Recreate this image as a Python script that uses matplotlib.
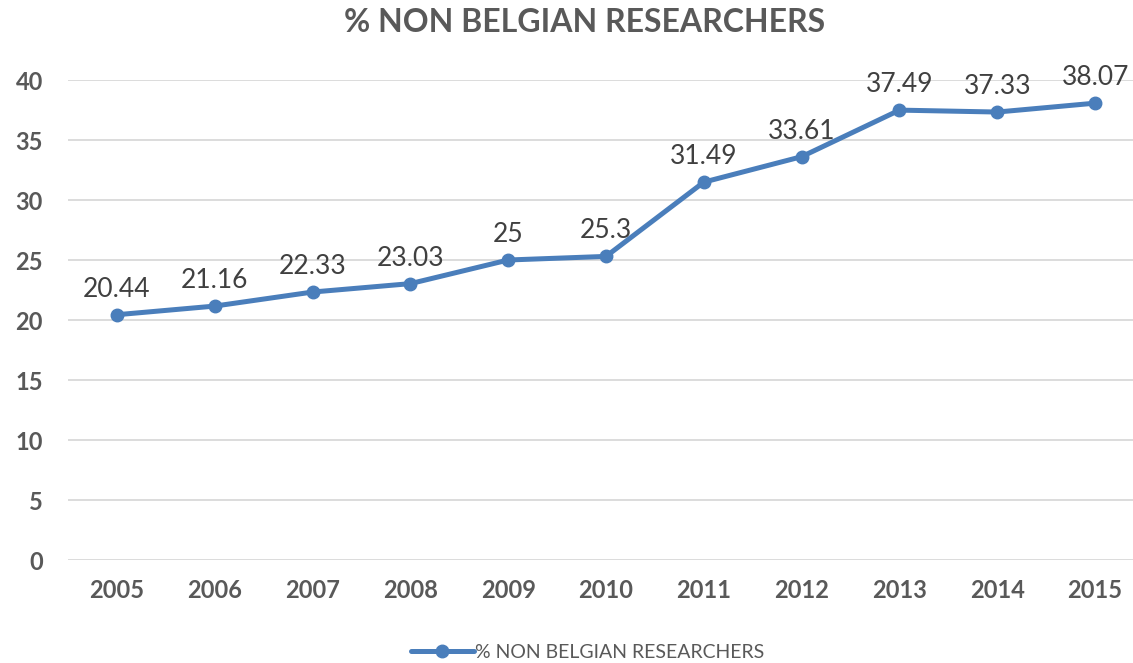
import matplotlib.pyplot as plt

years = ["2005", "2006", "2007", "2008", "2009", "2010", "2011", "2012", "2013", "2014", "2015"]
values = [20.44, 21.16, 22.33, 23.03, 25, 25.3, 31.49, 33.61, 37.49, 37.33, 38.07]
labels = ["20.44", "21.16", "22.33", "23.03", "25", "25.3", "31.49", "33.61", "37.49", "37.33", "38.07"]
series_name = "% NON BELGIAN RESEARCHERS"

plt.rcParams['font.family'] = ['Lato', 'DejaVu Sans']
grey = "#595959"
blue = "#4a7ebb"

fig = plt.figure(figsize=(11.33, 6.63), dpi=100)
W, H = 1133, 663
ax = fig.add_axes([68 / W, 1 - 560 / H, 1076 / W, 480 / H])

x = list(range(len(years)))
line, = ax.plot(x, values, color=blue, lw=3.6, marker="o", markersize=9,
                solid_capstyle="round", label=series_name, zorder=3)

# etiquetas de datos encima de cada punto
for xi, v, lab in zip(x, values, labels):
    ax.annotate(lab, (xi, v), xytext=(0, 13), textcoords="offset points",
                ha="center", va="baseline", fontsize=19, color="#404040")

ax.set_xlim(-0.5, 10.5)
ax.set_ylim(0, 40)
ax.set_yticks(range(0, 41, 5))
ax.set_xticks(x)
ax.set_xticklabels(years)
ax.grid(axis="y", color="#d9d9d9", lw=1.3)
ax.set_axisbelow(True)
for s in ax.spines.values():
    s.set_visible(False)
ax.tick_params(length=0, labelsize=17, labelcolor=grey, pad=14)
for t in ax.get_xticklabels() + ax.get_yticklabels():
    t.set_fontweight("bold")
ax.tick_params(axis="y", pad=18)

fig.text(585 / W, 1 - 22 / H, series_name, ha="center", va="center",
         fontsize=23, fontweight="bold", color=grey)

fig.legend(handles=[line], loc="center", bbox_to_anchor=(588 / W, 1 - 652 / H),
           frameon=False, fontsize=14, labelcolor=grey, handlelength=3.2,
           handletextpad=0.1)

fig.savefig("out.png", dpi=100)
